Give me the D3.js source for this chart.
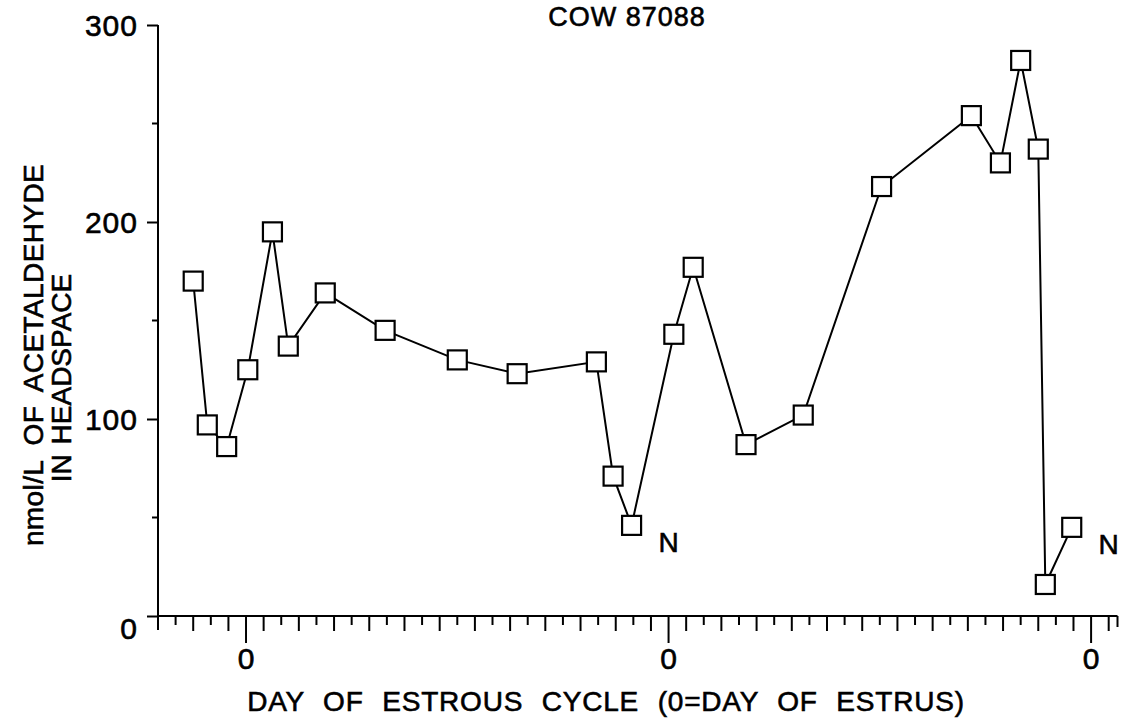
<!DOCTYPE html>
<html>
<head>
<meta charset="utf-8">
<script src="https://cdn.jsdelivr.net/npm/d3@7/dist/d3.min.js"></script>
<style>
  html, body { margin: 0; padding: 0; background: #fff; }
  svg { display: block; }
  text { font-family: "Liberation Sans", Arial, Helvetica, sans-serif; fill: #000; stroke: #000; stroke-width: 0.6px; }
</style>
</head>
<body>
<svg id="chart" width="1123" height="723"></svg>
<script>
// ---- data (day of estrous cycle, counted continuously across three cycles) ----
const days   = [-3, -2.2, -1.1, 0.1, 1.5, 2.4, 4.5, 7.9, 12, 15.4, 19.9, 20.85, 21.9,
                24.3, 25.4, 28.4, 31.65, 36.1, 41.2, 42.85, 44.0, 45.0, 45.4, 46.9];
const values = [170, 97, 86, 125, 195, 137, 164, 145, 130, 123, 129, 71, 46,
                143, 177, 87, 102, 218, 254, 230, 282, 237, 16, 45];
const nDays   = [21.9, 46.9];          // points annotated with "N"
const nValues = [46, 45];
const nLabels = ["N", "N"];
const yTicks      = [0, 100, 200, 300];
const yMinorTicks = [50, 150, 250];
const xLabelDays  = [0, 24, 48];
const xLabelText  = ["0", "0", "0"];
const title  = "COW 87088";
const xTitle = "DAY OF ESTROUS CYCLE (0=DAY OF ESTRUS)";
const yTitle1 = "nmol/L OF ACETALDEHYDE";
const yTitle2 = "IN HEADSPACE";

// ---- layout ----
const svg = d3.select("#chart");
const x = d3.scaleLinear().domain([-5, 49.5]).range([158, 1117.5]);
const y = d3.scaleLinear().domain([0, 300]).range([616, 25]);
const x0 = x(-5), yBase = y(0);

// title
svg.append("text").attr("x", 627).attr("y", 26).attr("text-anchor", "middle")
  .attr("font-size", 27).attr("letter-spacing", 1).text(title);

// y axis
const yAxis = d3.axisLeft(y).tickValues(yTicks).tickSize(11).tickPadding(9)
  .tickFormat(d3.format("d"));
const gy = svg.append("g").attr("transform", `translate(${x0},0)`).call(yAxis);
gy.select(".domain").remove();
gy.selectAll(".tick line").attr("stroke", "#000").attr("stroke-width", 2);
gy.selectAll(".tick text").attr("font-size", 30).attr("letter-spacing", 1)
  .attr("font-family", '"Liberation Sans", Arial, sans-serif')
  .attr("dy", d => d === 0 ? "0.75em" : "0.36em");
svg.append("g").selectAll("line").data(yMinorTicks).join("line")
  .attr("x1", x0 - 6).attr("x2", x0).attr("y1", d => y(d)).attr("y2", d => y(d))
  .attr("stroke", "#000").attr("stroke-width", 2);
svg.append("line").attr("x1", x0).attr("x2", x0).attr("y1", y(300)).attr("y2", yBase + 14)
  .attr("stroke", "#000").attr("stroke-width", 2);

// x axis
svg.append("line").attr("x1", x0).attr("x2", x(49.5)).attr("y1", yBase).attr("y2", yBase)
  .attr("stroke", "#000").attr("stroke-width", 2);
svg.append("line").attr("x1", x(49.5)).attr("x2", x(49.5)).attr("y1", yBase).attr("y2", yBase + 11)
  .attr("stroke", "#000").attr("stroke-width", 2);
const xTickDays = d3.range(-4, 50);
svg.append("g").selectAll("line").data(xTickDays).join("line")
  .attr("x1", d => x(d)).attr("x2", d => x(d))
  .attr("y1", yBase)
  .attr("y2", d => yBase + (xLabelDays.includes(d) ? 27 : (Math.abs(d) % 2 === 1 ? 15 : 9)))
  .attr("stroke", "#000").attr("stroke-width", 2);
svg.append("g").selectAll("text").data(xLabelDays).join("text")
  .attr("x", d => x(d)).attr("y", 669).attr("text-anchor", "middle")
  .attr("font-size", 30).text((d, i) => xLabelText[i]);

// axis titles
svg.append("text").attr("x", 606).attr("y", 711).attr("text-anchor", "middle")
  .attr("font-size", 28).attr("letter-spacing", 0.8).attr("word-spacing", 10).text(xTitle);
svg.append("text").attr("transform", "translate(43,355) rotate(-90)").attr("text-anchor", "middle")
  .attr("font-size", 28).attr("letter-spacing", 0.4).attr("word-spacing", 7).text(yTitle1);
svg.append("text").attr("transform", "translate(71,378) rotate(-90)").attr("text-anchor", "middle")
  .attr("font-size", 28).attr("word-spacing", 2).text(yTitle2);

// line
const pts = days.map((d, i) => [d, values[i]]);
svg.append("path").datum(pts)
  .attr("d", d3.line().x(d => x(d[0])).y(d => y(d[1])))
  .attr("fill", "none").attr("stroke", "#000").attr("stroke-width", 2);

// square markers
const s = 19;
svg.append("g").selectAll("rect").data(pts).join("rect")
  .attr("x", d => x(d[0]) - s / 2).attr("y", d => y(d[1]) - s / 2)
  .attr("width", s).attr("height", s)
  .attr("fill", "#fff").attr("stroke", "#000").attr("stroke-width", 2.2);

// "N" annotations
svg.append("g").selectAll("text").data(nDays).join("text")
  .attr("x", (d, i) => x(d) + 37).attr("y", (d, i) => y(nValues[i]) + 27)
  .attr("text-anchor", "middle").attr("font-size", 28)
  .text((d, i) => nLabels[i]);
</script>
</body>
</html>
